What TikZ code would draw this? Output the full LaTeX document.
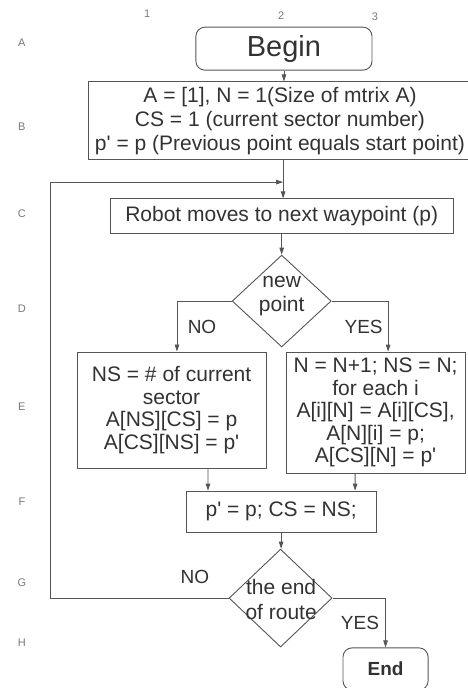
\documentclass[tikz,border=0pt]{standalone}
\usepackage{fontspec}
\setmainfont{Liberation Sans}
\usetikzlibrary{shapes.geometric, arrows.meta}
\definecolor{inkgray}{RGB}{50,50,50}
\definecolor{linegray}{RGB}{85,85,85}
\definecolor{gridgray}{RGB}{120,120,120}

\begin{document}
\begin{tikzpicture}[
    box/.style={draw=linegray, line width=0.9pt, rectangle, align=center, inner sep=2pt, text=inkgray, font=\fontsize{21}{22.5}\selectfont},
    terminal/.style={box, rounded corners=9pt},
    decision/.style={draw=linegray, line width=0.9pt, diamond, inner sep=0pt},
    flowtext/.style={align=center, text=inkgray, inner sep=0pt, font=\fontsize{21}{24.5}\selectfont},
    branch/.style={text=inkgray, font=\fontsize{19}{21}\selectfont},
    gridlabel/.style={text=gridgray, font=\fontsize{11}{12}\selectfont},
    arr/.style={draw=linegray, line width=0.9pt, -{Triangle[length=7pt, width=4.5pt]}}
  ]
  \useasboundingbox (0,0) rectangle (16.413,-24.18);

  % grid labels
  \node[gridlabel] (col1) at (5.17,-0.49) {1};
  \node[gridlabel] (col2) at (9.88,-0.56) {2};
  \node[gridlabel] (col3) at (13.18,-0.60) {3};
  \node[gridlabel] (rowA) at (0.77,-1.51) {A};
  \node[gridlabel] (rowB) at (0.77,-4.46) {B};
  \node[gridlabel] (rowC) at (0.77,-7.52) {C};
  \node[gridlabel] (rowD) at (0.77,-10.86) {D};
  \node[gridlabel] (rowE) at (0.77,-14.31) {E};
  \node[gridlabel] (rowF) at (0.77,-17.64) {F};
  \node[gridlabel] (rowG) at (0.77,-20.49) {G};
  \node[gridlabel] (rowH) at (0.77,-22.60) {H};

  % start and set-up
  \node[terminal, minimum width=6.19cm, minimum height=1.51cm, font=\fontsize{29}{32}\selectfont] (begin) at (9.98,-1.71) {Begin};
  \node[box, minimum width=13.43cm, minimum height=2.74cm, font=\fontsize{21}{24}\selectfont] (init) at (9.84,-4.25)
    {A = [1], N = 1(Size of mtrix A)\\CS = 1 (current sector number)\\p\textquotesingle{} = p (Previous point equals start point)};

  % next waypoint
  \node[box, minimum width=12.06cm, minimum height=1.20cm] (move) at (9.90,-7.59) {Robot moves to next waypoint (p)};

  % decision: new point
  \node[decision, minimum width=3.48cm, minimum height=3.23cm] (newpt) at (9.90,-10.58) {};
  \node[flowtext] (newpttext) at (9.90,-10.40) {new\\point};

  % NO / YES boxes
  \node[box, minimum width=6.64cm, minimum height=4.08cm] (oldsec) at (6.03,-14.41)
    {NS = \# of current\\sector\\A[NS][CS] = p\\A[CS][NS] = p\textquotesingle};
  \node[box, minimum width=6.29cm, minimum height=4.25cm] (newsec) at (13.20,-14.50)
    {N = N+1; NS = N;\\for each i\\A[i][N] = A[i][CS],\\A[N][i] = p;\\A[CS][N] = p\textquotesingle};

  % update
  \node[box, minimum width=6.68cm, minimum height=1.44cm] (update) at (9.88,-17.98) {p\textquotesingle{} = p; CS = NS;};

  % decision: end of route
  \node[decision, minimum width=3.62cm, minimum height=3.44cm] (endroute) at (9.86,-21.02) {};
  \node[flowtext] (endroutetext) at (9.88,-21.07) {the end\\of route};

  % stop
  \node[terminal, minimum width=2.99cm, minimum height=1.48cm, font=\fontsize{19}{21}\selectfont\bfseries] (finish) at (13.55,-23.51) {End};

  % connectors
  \coordinate (merge) at (9.95,-6.40);
  \coordinate (loopcorner) at (1.76,-6.40);
  \draw[arr] (begin.south) -- (begin.south |- init.north);
  \draw[arr] (init.south -| merge) -- (merge |- move.north);
  \draw[arr] (move.south) -- (newpt.north);
  \draw[arr] (newpt.west) -| ([xshift=0.19cm]oldsec.north);
  \draw[arr] (newpt.east) -| ([xshift=0.44cm]newsec.north);
  \draw[arr] ([xshift=1.28cm]oldsec.south) -- ([xshift=-2.57cm]update.north);
  \draw[arr] ([xshift=-0.72cm]newsec.south) -- ([xshift=2.60cm]update.north);
  \draw[arr] (update.south) -- (update.south |- endroute.north);
  \draw[arr] (endroute.west) -| (loopcorner) -- (merge);
  \draw[arr] (endroute.east) -| (finish.north);

  % branch labels
  \node[branch] (newno) at (7.10,-11.49) {NO};
  \node[branch] (newyes) at (12.78,-11.49) {YES};
  \node[branch] (endno) at (6.85,-20.28) {NO};
  \node[branch] (endyes) at (12.65,-21.90) {YES};
\end{tikzpicture}
\end{document}
